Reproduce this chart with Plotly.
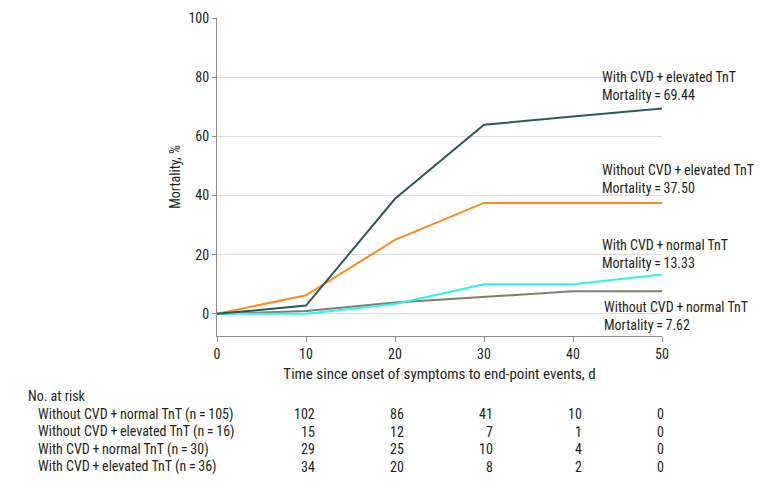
import plotly.graph_objects as go

days = [0, 10, 20, 30, 40, 50]
nocvd_norm = [0, 0.95, 3.81, 5.71, 7.62, 7.62]
cvd_norm = [0, 0, 3.33, 10.0, 10.0, 13.33]
nocvd_elev = [0, 6.25, 25.0, 37.5, 37.5, 37.5]
cvd_elev = [0, 2.78, 38.89, 63.89, 66.67, 69.44]

group_names = ["Without CVD + normal TnT", "Without CVD + elevated TnT",
               "With CVD + normal TnT", "With CVD + elevated TnT"]
group_n = [105, 16, 30, 36]
final_mortality = ["7.62", "37.50", "13.33", "69.44"]
risk_days = [10, 20, 30, 40, 50]
risk_nocvd_norm = [102, 86, 41, 10, 0]
risk_nocvd_elev = [15, 12, 7, 1, 0]
risk_cvd_norm = [29, 25, 10, 4, 0]
risk_cvd_elev = [34, 20, 8, 2, 0]

FONT = "Liberation Sans Narrow, Roboto Condensed, Arial Narrow, sans-serif"
TXT = "#231f20"
TS = "\u2009"
FS = 14
FS_BIG = 15

def lbl(s):
    return s.replace(" + ", TS + "+" + TS)

W, H = 780, 485
L, R, T, B = 217, 662, 18, 336

def px(x):
    return (x - L) / (R - L)

def py(y):
    return (B - y) / (B - T)

fig = go.Figure()
series = [nocvd_norm, cvd_norm, nocvd_elev, cvd_elev]
colors = ["#7f7f6e", "#2ef2f2", "#ff8a1c", "#2b5a58"]
for i in range(4):
    fig.add_trace(go.Scatter(x=days, y=series[i], mode="lines",
                             line=dict(color=colors[i], width=2),
                             showlegend=False, hoverinfo="skip"))

annos = []
label_pos = [(3, 600, 77), (1, 600, 170), (2, 600, 245), (0, 602, 307)]
for gi, xp, yp in label_pos:
    annos.append(dict(x=px(xp), y=py(yp), xref="paper", yref="paper",
                      xanchor="left", yanchor="middle", showarrow=False,
                      align="left", text=lbl(group_names[gi]),
                      font=dict(family=FONT, size=FS, color=TXT)))
    annos.append(dict(x=px(xp), y=py(yp + 18), xref="paper", yref="paper",
                      xanchor="left", yanchor="middle", showarrow=False,
                      align="left", text="Mortality" + TS + "=" + TS + final_mortality[gi],
                      font=dict(family=FONT, size=FS, color=TXT)))

annos.append(dict(x=px(26), y=py(396), xref="paper", yref="paper", xanchor="left",
                  yanchor="middle", showarrow=False, text="No. at risk",
                  font=dict(family=FONT, size=FS, color=TXT)))
risk_rows = [risk_nocvd_norm, risk_nocvd_elev, risk_cvd_norm, risk_cvd_elev]
row_y = [414, 431.5, 449, 466.5]
for r, row in enumerate(risk_rows):
    annos.append(dict(x=px(36), y=py(row_y[r]), xref="paper", yref="paper",
                      xanchor="left", yanchor="middle", showarrow=False,
                      text=lbl(group_names[r]) + " (n" + TS + "=" + TS + str(group_n[r]) + ")",
                      font=dict(family=FONT, size=FS, color=TXT)))
    for d, v in zip(risk_days, row):
        shift = 4 if d == 50 else 11
        annos.append(dict(x=d, y=py(row_y[r]), xref="x", yref="paper",
                          xanchor="right", yanchor="middle", showarrow=False,
                          xshift=shift, text=str(v),
                          font=dict(family=FONT, size=FS, color=TXT)))

fig.update_layout(
    width=W, height=H,
    margin=dict(l=L, r=W - R, t=T, b=H - B, autoexpand=False),
    paper_bgcolor="white", plot_bgcolor="white",
    font=dict(family=FONT, size=FS, color=TXT),
    annotations=annos,
    showlegend=False,
    xaxis=dict(range=[0, 50], tickvals=[0, 10, 20, 30, 40, 50],
               showline=True, linecolor="#8c8c8c", linewidth=1,
               ticks="outside", ticklen=5, tickcolor="#8c8c8c",
               showgrid=False, zeroline=False,
               tickfont=dict(family=FONT, size=FS, color=TXT),
               title=dict(text="Time since onset of symptoms to end-point events, d",
                          font=dict(family=FONT, size=FS_BIG, color=TXT), standoff=7)),
    yaxis=dict(range=[-7.5, 100], tickvals=[0, 20, 40, 60, 80, 100],
               showline=True, linecolor="#8c8c8c", linewidth=1,
               ticks="outside", ticklen=4, tickcolor="#8c8c8c",
               showgrid=True, gridcolor="#dcdcdc", gridwidth=1, zeroline=False,
               tickfont=dict(family=FONT, size=FS, color=TXT),
               title=dict(text="Mortality, %",
                          font=dict(family=FONT, size=FS, color=TXT), standoff=4)),
)

fig.write_html("out.html", config={"displayModeBar": False},
               post_script="document.body.style.margin='0';")
